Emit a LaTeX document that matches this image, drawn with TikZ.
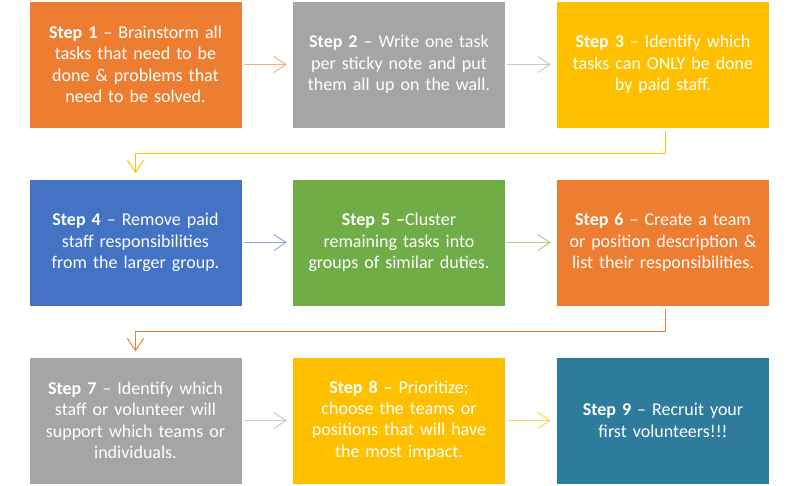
\documentclass[tikz,border=0pt]{standalone}
\usepackage{fontspec}
\setmainfont{Carlito}
\usetikzlibrary{arrows.meta}

\definecolor{orangeE}{HTML}{ED7D31}
\definecolor{grisE}{HTML}{A5A5A5}
\definecolor{orE}{HTML}{FFC000}
\definecolor{bleuE}{HTML}{4472C4}
\definecolor{vertE}{HTML}{70AD47}
\definecolor{canardE}{HTML}{2E7B9E}

\begin{document}
\begin{tikzpicture}[x=1pt,y=-1pt,
	etape/.style={rectangle,minimum width=212pt,minimum height=126pt,inner sep=0pt,
		text width=208pt,align=center,text=white,font=\fontsize{18}{21.4}\selectfont},
	fleche/.style={line width=1pt,-{Straight Barb[length=12pt,width=16pt]},
		shorten <=2pt,shorten >=6pt}]
		
		\useasboundingbox (0,0) rectangle (797,485);
		
		% Ligne 1
		\node[etape,fill=orangeE] (s1) at (135.5,64.5)
		{\textbf{Step 1} -- Brainstorm all\\tasks that need to be\\done \& problems that\\need to be solved.};
		\node[etape,fill=grisE] (s2) at (399,64.5)
		{\textbf{Step 2} -- Write one task\\per sticky note and put\\them all up on the wall.};
		\node[etape,fill=orE] (s3) at (663,64.5)
		{\textbf{Step 3} -- Identify which\\tasks can ONLY be done\\by paid staff.};
		
		% Ligne 2
		\node[etape,fill=bleuE] (s4) at (135.5,242.5)
		{\textbf{Step 4} -- Remove paid\\staff responsibilities\\from the larger group.};
		\node[etape,fill=vertE] (s5) at (399,242.5)
		{\textbf{Step 5 --}Cluster\\remaining tasks into\\groups of similar duties.};
		\node[etape,fill=orangeE] (s6) at (663,242.5)
		{\textbf{Step 6} -- Create a team\\or position description \&\\list their responsibilities.};
		
		% Ligne 3
		\node[etape,fill=grisE] (s7) at (135.5,420.5)
		{\textbf{Step 7} -- Identify which\\staff or volunteer will\\support which teams or\\individuals.};
		\node[etape,fill=orE] (s8) at (399,420.5)
		{\textbf{Step 8 --} Prioritize;\\choose the teams or\\positions that will have\\the most impact.};
		\node[etape,fill=canardE] (s9) at (663,420.5)
		{\textbf{Step 9} -- Recruit your\\first volunteers!!!};
		
		% Fleches horizontales
		\draw[fleche,orangeE!60] (s1) -- (s2);
		\draw[fleche,grisE!60] (s2) -- (s3);
		\draw[fleche,bleuE!60] (s4) -- (s5);
		\draw[fleche,vertE!60] (s5) -- (s6);
		\draw[fleche,grisE!60] (s7) -- (s8);
		\draw[fleche,orE!65] (s8) -- (s9);
		
		% Fleches coudees
		\draw[fleche,orE,shorten <=3pt] ([xshift=2pt]s3.south) -- ++(0,26) -| (s4.north);
		\draw[fleche,orangeE,shorten <=3pt] ([xshift=2pt]s6.south) -- ++(0,26) -| (s7.north);
		
	\end{tikzpicture}
\end{document}
